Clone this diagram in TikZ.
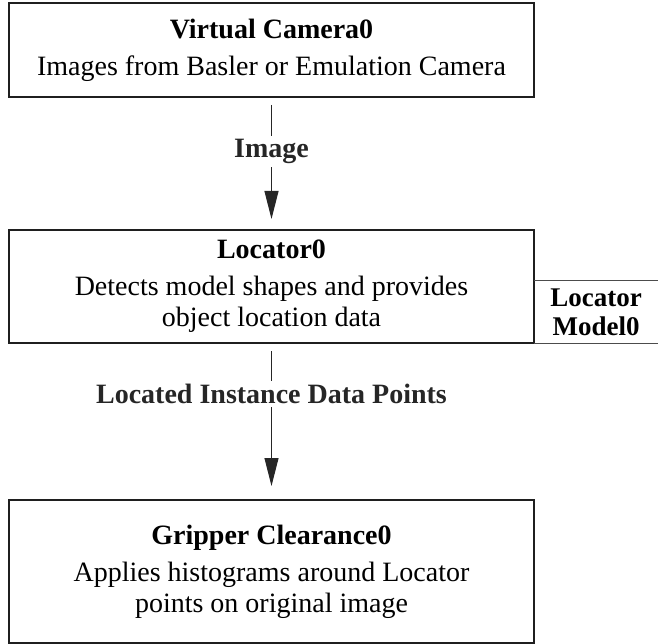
\documentclass[tikz,border=0pt]{standalone}
\usepackage{fontspec}
\setmainfont{Liberation Serif}
\usetikzlibrary{arrows.meta}

\tikzset{
  block/.style={draw=black!88,line width=2pt,minimum width=525pt,
    align=center,inner sep=0pt,font=\fontsize{28}{31}\selectfont},
  flow/.style={-{Triangle[length=28pt,width=14pt]},line width=1pt,black!85},
  lbl/.style={fill=white,inner sep=3pt,font=\fontsize{28}{30}\selectfont\bfseries},
  side/.style={align=center,inner sep=0pt,minimum width=124pt,minimum height=62pt,
    font=\fontsize{27}{29}\selectfont\bfseries},
  sideline/.style={black!70,line width=1pt}
}

\begin{document}
\begin{tikzpicture}[x=1pt,y=-1pt]
  \useasboundingbox (0,0) rectangle (658,644);
  % blocks
  \node[block,minimum height=94pt] (cam) at (271.5,50)
    {\textbf{Virtual Camera0}\\[6pt] Images from Basler or Emulation Camera};
  \node[block,minimum height=113pt] (loc) at (271.5,286.5)
    {\textbf{Locator0}\\[6pt] Detects model shapes and provides\\ object location data};
  \node[block,minimum height=143pt] (grip) at (271.5,571.5)
    {\textbf{Gripper Clearance0}\\[6pt] Applies histograms around Locator\\ points on original image};
  % model tab
  \node[side] (model) at (596,312) {Locator\\Model0};
  \draw[sideline] (model.north west) -- (model.north east);
  \draw[sideline] (model.south west) -- (model.south east);
  % connectors
  \draw[flow] ([yshift=-7pt]cam.south) -- node[lbl,pos=.41] {Image} ([yshift=10pt]loc.north);
  \draw[flow] ([yshift=-7pt]loc.south) -- node[lbl,pos=.32] {Located Instance Data Points} ([yshift=13pt]grip.north);
\end{tikzpicture}
\end{document}
